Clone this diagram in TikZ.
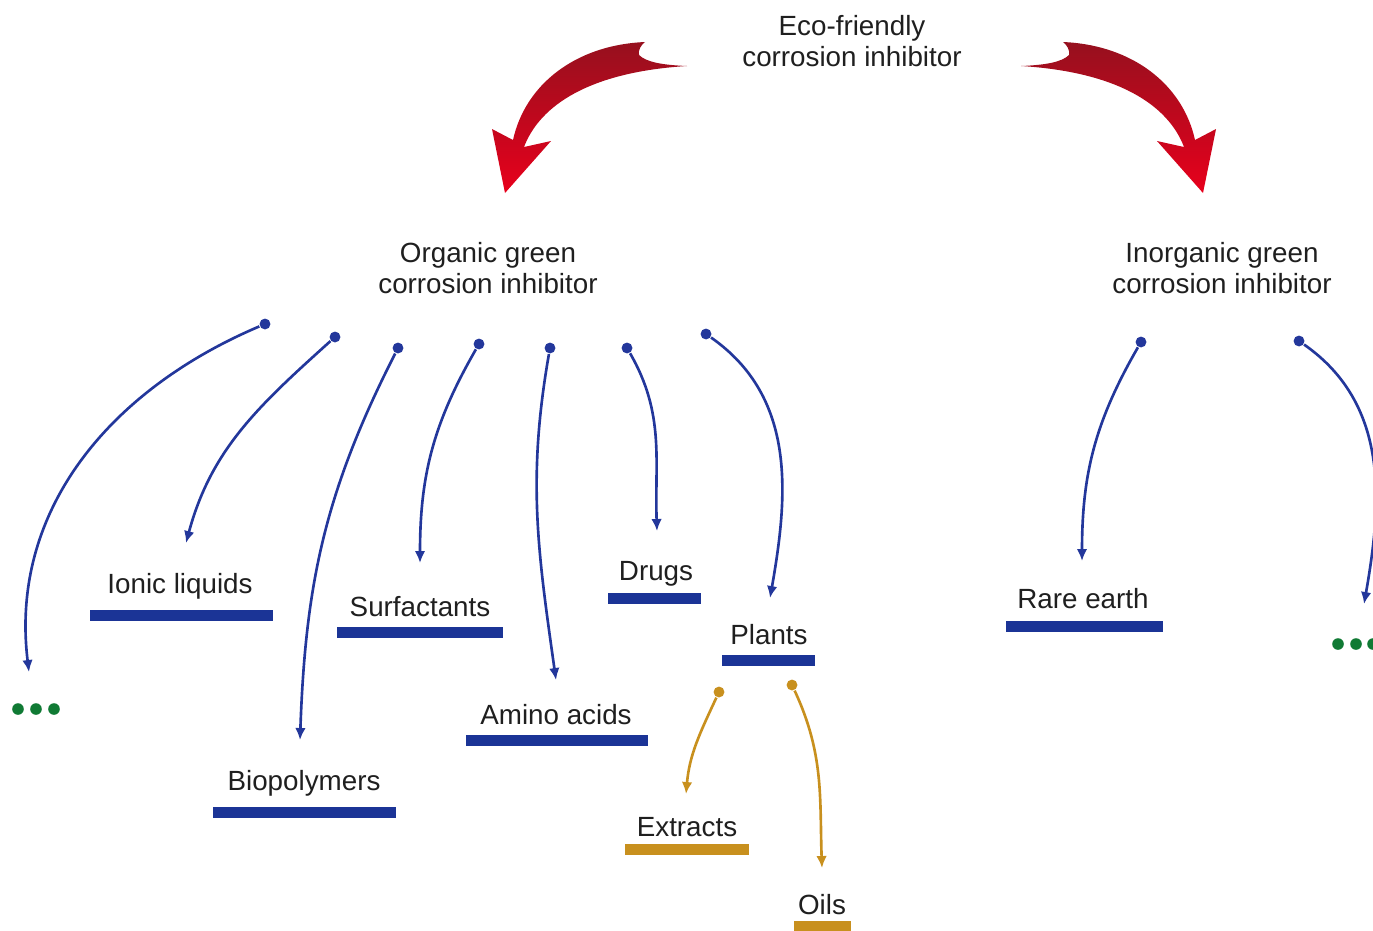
\documentclass[tikz,border=0pt]{standalone}
\usepackage{fontspec}
\setmainfont{Liberation Sans}
\usetikzlibrary{arrows.meta}
\definecolor{barblue}{RGB}{27,52,150}
\definecolor{linkblue}{RGB}{35,55,155}
\definecolor{bargold}{RGB}{200,144,30}
\definecolor{dotgreen}{RGB}{16,122,52}
\definecolor{darkred}{RGB}{150,16,30}
\definecolor{brightred}{RGB}{232,0,28}
\tikzset{
  lbl/.style={font=\fontsize{7.9}{9}\selectfont, text=black!88, inner sep=0pt},
  head/.style={lbl, align=center},
  bar/.style={line width=0.11cm, barblue},
  goldbar/.style={bar, bargold},
  src/.style={circle, fill=linkblue, inner sep=0pt, minimum size=3.1pt},
  goldsrc/.style={src, fill=bargold},
  link/.style={linkblue, line width=0.75pt, -{Latex[length=3.4pt,width=3pt]}},
  goldlink/.style={link, bargold},
  more/.style={circle, fill=dotgreen, inner sep=0pt, minimum size=3.3pt},
  curl/.pic={
    \shade[top color=darkred, bottom color=brightred]
      (645,42) .. controls (575,45) and (525,85) .. (513,140)
      -- (492,129) -- (505,193) -- (551,141) -- (524,147)
      .. controls (540,105) and (590,72) .. (687,66)
      .. controls (662,65) and (646,62) .. (639,55)
      .. controls (638,50) and (641,45) .. (645,42) -- cycle;
  }
}
\begin{document}
\begin{tikzpicture}[x=0.01cm, y=-0.01cm]
\useasboundingbox (0,0) rectangle (1373,930);

\node[head] (eco) at (852,41) {Eco-friendly\\corrosion inhibitor};
\node[head] (organic) at (488,268) {Organic green\\corrosion inhibitor};
\node[head] (inorganic) at (1222,268) {Inorganic green\\corrosion inhibitor};
\pic at (0,0) {curl};
\pic[xscale=-1] at (1708,0) {curl};

\node[lbl, anchor=base] (ionic) at (180,593) {Ionic liquids};
\node[lbl, anchor=base] (surf) at (420,616) {Surfactants};
\node[lbl, anchor=base] (drugs) at (656,580) {Drugs};
\node[lbl, anchor=base] (plants) at (769,644) {Plants};
\node[lbl, anchor=base] (amino) at (556,724) {Amino acids};
\node[lbl, anchor=base] (bio) at (304,790) {Biopolymers};
\node[lbl, anchor=base] (extracts) at (687,836) {Extracts};
\node[lbl, anchor=base] (oils) at (822,914) {Oils};
\node[lbl, anchor=base] (rare) at (1083,608) {Rare earth};

\draw[bar] (90,615) -- (273,615);
\draw[bar] (337,632) -- (503,632);
\draw[bar] (608,598) -- (701,598);
\draw[bar] (722,660) -- (815,660);
\draw[bar] (466,740) -- (648,740);
\draw[bar] (213,812) -- (396,812);
\draw[goldbar] (625,849) -- (749,849);
\draw[goldbar] (794,926) -- (851,926);
\draw[bar] (1006,626) -- (1163,626);

\foreach \x [count=\i] in {18,36,54} \node[more] (lmore-\i) at (\x,709) {};
\foreach \x [count=\i] in {1338,1356,1373} \node[more] (rmore-\i) at (\x,644) {};

\node[src] (s-lmore) at (265,324) {};
\node[src] (s-ionic) at (335,337) {};
\node[src] (s-bio) at (398,348) {};
\node[src] (s-surf) at (479,344) {};
\node[src] (s-amino) at (550,348) {};
\node[src] (s-drugs) at (627,348) {};
\node[src] (s-plants) at (706,334) {};
\node[src] (s-rare) at (1141,342) {};
\node[src] (s-rmore) at (1299,341) {};
\node[goldsrc] (s-extracts) at (719,692) {};
\node[goldsrc] (s-oils) at (792,685) {};

\coordinate (lmore-in) at (29,672);
\coordinate (ionic-in) at (186,543);
\coordinate (bio-in) at (300,740);
\coordinate (surf-in) at (420,563);
\coordinate (amino-in) at (556,680);
\coordinate (drugs-in) at (657,531);
\coordinate (plants-in) at (770,598);
\coordinate (rare-in) at (1082,561);
\coordinate (rmore-in) at (1364,604);
\coordinate (extracts-in) at (686,794);
\coordinate (oils-in) at (822,868);

\draw[link] (s-lmore) to[out=203, in=97] (lmore-in);
\draw[link] (s-ionic) to[out=222, in=75] (ionic-in);
\draw[link] (s-bio) to[out=243, in=88] (bio-in);
\draw[link] (s-surf) to[out=240, in=90] (surf-in);
\draw[link] (s-amino) to[out=260, in=98] (amino-in);
\draw[link] (s-drugs) to[out=300, in=92] (drugs-in);
\draw[link] (s-plants) to[out=325, in=80] (plants-in);
\draw[link] (s-rare) to[out=240, in=90] (rare-in);
\draw[link] (s-rmore) to[out=325, in=80] (rmore-in);
\draw[goldlink] (s-extracts) to[out=245, in=85] (extracts-in);
\draw[goldlink] (s-oils) to[out=295, in=92] (oils-in);
\end{tikzpicture}
\end{document}
